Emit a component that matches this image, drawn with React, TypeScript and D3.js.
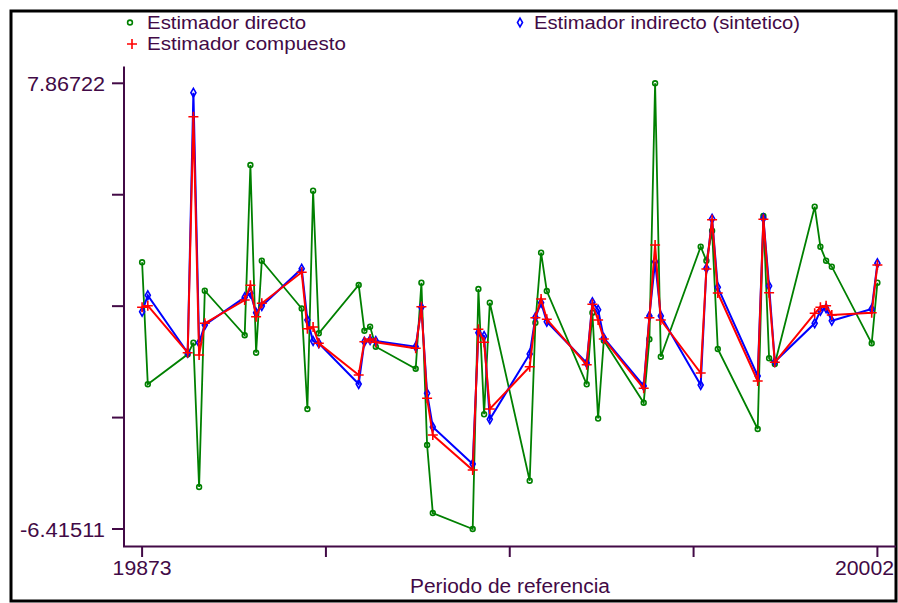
import React from "react";
import * as d3 from "d3";

// periodo de referencia: año*10 + trimestre
const periodos = [
  19873, 19874,
  19881, 19882, 19883, 19884,
  19891, 19892, 19893, 19894,
  19901, 19902, 19903, 19904,
  19911, 19912, 19913, 19914,
  19921, 19922, 19923, 19924,
  19931, 19932, 19933, 19934,
  19941, 19942, 19943, 19944,
  19951, 19952, 19953, 19954,
  19961, 19962, 19963, 19964,
  19971, 19972, 19973, 19974,
  19981, 19982, 19983, 19984,
  19991, 19992, 19993, 19994,
  20001, 20002,
];

const directo = [
  2.131, -1.779,
  -0.817, -0.445, -5.07, 1.221,
  -0.208, 5.249, -0.766, 2.182,
  0.65, -2.57, 4.425, -0.144,
  1.403, -0.061, 0.067, -0.574,
  -1.279, 1.477, -3.724, -5.903,
  -6.41511, 1.275, -2.74, 0.836,
  -4.868, 0.195, 2.439, 1.211,
  -1.779, 0.516, -2.875, -0.375,
  -2.368, -0.337, 7.86722, -0.894,
  2.631, 2.182, 3.144, -0.647,
  -3.211, 3.615, -0.945, -1.128,
  3.913, 2.631, 2.182, 1.99,
  -0.465, 1.477,
];

const indirecto = [
  0.548, 1.073,
  -0.766, 7.566, -0.445, 0.122,
  1.009, 1.138, 0.516, 0.731,
  1.926, 0.282, -0.391, -0.465,
  -1.769, -0.413, -0.359, -0.391,
  -0.574, 0.689, -2.067, -3.147,
  -4.333, -0.125, -0.231, -2.9,
  -0.808, 0.368, 0.836, 0.227,
  -1.096, 0.852, 0.612, -0.295,
  -1.833, 0.41, 2.15, 0.41,
  -1.801, 1.939, 3.528, 1.33,
  -1.513, 3.541, 1.371, -1.054,
  0.176, 0.58, 0.657, 0.26,
  0.634, 2.099,
];

const compuesto = [
  0.689, 0.74,
  -0.766, 6.797, -0.84, 0.176,
  0.923, 1.394, 0.388, 0.817,
  1.81, 0.003, 0.058, -0.465,
  -1.481, -0.413, -0.327, -0.433,
  -0.625, 0.708, -2.227, -3.403,
  -4.525, -0.016, -0.433, -2.57,
  -1.215, 0.356, 0.955, 0.304,
  -1.151, 0.788, 0.282, -0.327,
  -1.907, 0.356, 2.685, 0.282,
  -1.417, 1.916, 3.496, 1.147,
  -1.673, 3.509, 1.157, -1.074,
  0.497, 0.689, 0.74, 0.442,
  0.516, 2.044,
];

const yMin = -6.41511;
const yMax = 7.86722;
const xTicks = [19873, 19905.25, 19937.5, 19969.75, 20002];

const axisColor = "#420a46";
const font = "'Liberation Sans', Arial, Helvetica, sans-serif";

const x = d3.scaleLinear().domain([19873, 20002]).range([142.1, 877.4]);
const y = d3.scaleLinear().domain([yMin, yMax]).range([529, 83.3]);
const yTicks = d3.range(5).map((i) => yMin + (i * (yMax - yMin)) / 4);

const line = d3
  .line<number>()
  .x((_, i) => x(periodos[i]))
  .y((d) => y(d));

const diamond = d3.symbol(d3.symbolDiamond, 22)()!;

function Circle({ cx, cy }: { cx: number; cy: number }) {
  return <circle cx={cx} cy={cy} r={2.4} fill="none" stroke="#008000" strokeWidth={1.6} />;
}
function Diamond({ cx, cy }: { cx: number; cy: number }) {
  return (
    <path d={diamond} transform={`translate(${cx},${cy})`} fill="none" stroke="#0000ff" strokeWidth={1.6} />
  );
}
function Plus({ cx, cy }: { cx: number; cy: number }) {
  return (
    <path d="M-5,0H5M0,-5V5" transform={`translate(${cx},${cy})`} stroke="#ff0000" strokeWidth={1.6} />
  );
}

export default function App() {
  return (
    <svg
      width={898}
      height={603}
      style={{ position: "absolute", left: 0, top: 0, background: "#fff" }}
      fontFamily={font}
    >
      <rect x={0} y={0} width={898} height={603} fill="#fff" />
      <rect x={11} y={11} width={885} height={590} fill="none" stroke="#000" strokeWidth={3} />

      {/* leyenda */}
      <g fill={axisColor} fontSize={19}>
        <Circle cx={130} cy={22.5} />
        <text x={147} y={28.5} textLength={159} lengthAdjust="spacingAndGlyphs">Estimador directo</text>
        <Diamond cx={520} cy={22.5} />
        <text x={534} y={28.5} textLength={266} lengthAdjust="spacingAndGlyphs">Estimador indirecto (sintetico)</text>
        <Plus cx={132} cy={44} />
        <text x={147} y={50} textLength={199} lengthAdjust="spacingAndGlyphs">Estimador compuesto</text>
      </g>

      {/* ejes */}
      <g stroke={axisColor} strokeWidth={2} fill="none">
        <line x1={124} y1={66.5} x2={124} y2={547} />
        <line x1={123} y1={546.5} x2={896} y2={546.5} />
        {yTicks.map((t) => (
          <line key={t} x1={112} x2={124} y1={y(t)} y2={y(t)} />
        ))}
        {xTicks.map((t) => (
          <line key={t} x1={x(t)} x2={x(t)} y1={546} y2={557} />
        ))}
      </g>
      <g fill={axisColor} fontSize={20}>
        <text x={105} y={y(yMax) + 7.5} textAnchor="end" textLength={78} lengthAdjust="spacingAndGlyphs">
          {yMax.toString()}
        </text>
        <text x={105} y={y(yMin) + 7.5} textAnchor="end" textLength={85} lengthAdjust="spacingAndGlyphs">
          {yMin.toString()}
        </text>
        <text x={x(19873)} y={575} textAnchor="middle" textLength={59} lengthAdjust="spacingAndGlyphs">
          19873
        </text>
        <text x={894} y={575} textAnchor="end" textLength={59} lengthAdjust="spacingAndGlyphs">
          20002
        </text>
        <text x={510} y={593} textAnchor="middle" textLength={200} lengthAdjust="spacingAndGlyphs">
          Periodo de referencia
        </text>
      </g>

      {/* series */}
      <path d={line(directo)!} fill="none" stroke="#008000" strokeWidth={1.8} />
      {directo.map((d, i) => (
        <Circle key={i} cx={x(periodos[i])} cy={y(d)} />
      ))}
      <path d={line(indirecto)!} fill="none" stroke="#0000ff" strokeWidth={2} />
      {indirecto.map((d, i) => (
        <Diamond key={i} cx={x(periodos[i])} cy={y(d)} />
      ))}
      <path d={line(compuesto)!} fill="none" stroke="#ff0000" strokeWidth={2} />
      {compuesto.map((d, i) => (
        <Plus key={i} cx={x(periodos[i])} cy={y(d)} />
      ))}
    </svg>
  );
}
